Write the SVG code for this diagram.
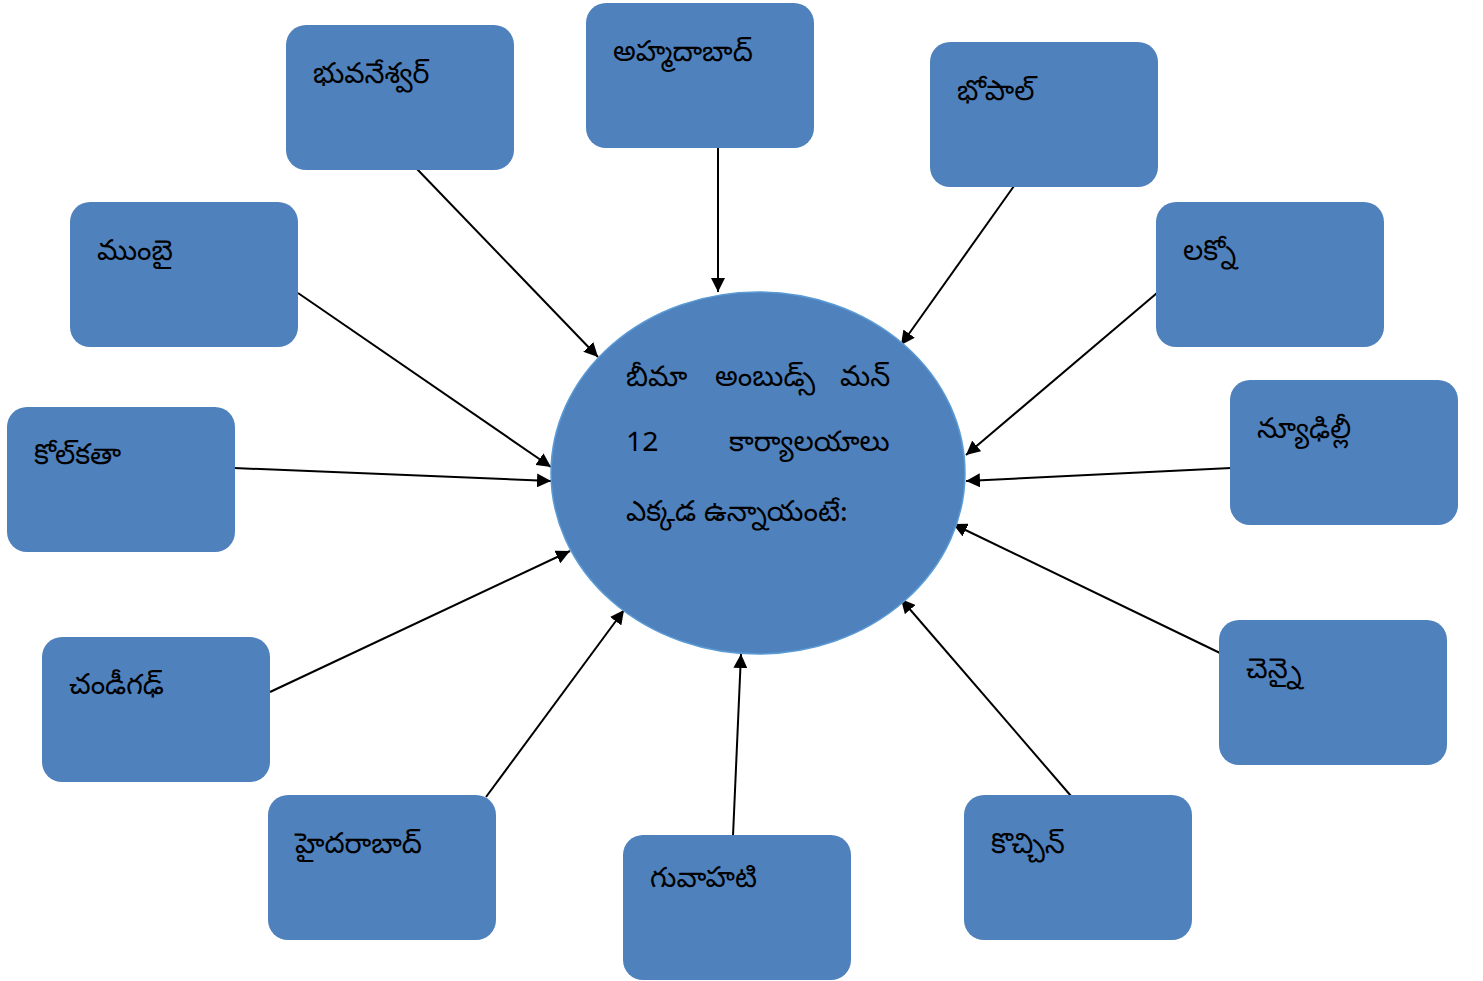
<svg xmlns="http://www.w3.org/2000/svg" width="1483" height="981" viewBox="0 0 1483 981">
<style>
.box{fill:#4F81BD;}
.t{font-family:"Noto Sans Telugu","Gautami","Nirmala UI","Noto Sans","DejaVu Sans",sans-serif;font-size:28.5px;fill:#000;}
.c{stroke:#000;stroke-width:2;fill:none;marker-end:url(#ah);}
</style>
<defs>
<marker id="ah" viewBox="0 0 10 10" refX="10" refY="5" markerWidth="7" markerHeight="7" markerUnits="strokeWidth" orient="auto">
<path d="M0,0 L10,5 L0,10 z" fill="#000"/>
</marker>
</defs>
<rect width="1483" height="981" fill="#fff"/>
<g id="connectors">
<line class="c" x1="417" y1="169" x2="598" y2="357"/>
<line class="c" x1="718" y1="148" x2="718" y2="292"/>
<line class="c" x1="1014" y1="186" x2="901" y2="345"/>
<line class="c" x1="298" y1="293" x2="551" y2="467"/>
<line class="c" x1="1157" y1="293" x2="966" y2="455"/>
<line class="c" x1="234" y1="468" x2="551" y2="481"/>
<line class="c" x1="1231" y1="468" x2="966" y2="481"/>
<line class="c" x1="270" y1="692" x2="570" y2="551"/>
<line class="c" x1="1220" y1="653" x2="953" y2="524"/>
<line class="c" x1="486" y1="797" x2="624" y2="610"/>
<line class="c" x1="733" y1="836" x2="741" y2="654"/>
<line class="c" x1="1071" y1="796" x2="901" y2="599"/>
</g>
<g id="center">
<ellipse cx="758" cy="473" rx="207" ry="181" fill="#4F81BD" stroke="#5B9BD5" stroke-width="1.5"/>
<text class="t" x="626" y="386">బీమా</text>
<text class="t" x="715" y="386">అంబుడ్స్</text>
<text class="t" x="840" y="386">మన్</text>
<text class="t" x="626" y="451">12</text>
<text class="t" x="729" y="451">కార్యాలయాలు</text>
<text class="t" x="626" y="521">ఎక్కడ ఉన్నాయంటే:</text>
</g>
<g id="bhubaneswar"><rect class="box" x="286" y="25" width="228" height="145" rx="20"/><text class="t" x="313" y="83">భువనేశ్వర్</text></g>
<g id="ahmedabad"><rect class="box" x="586" y="3" width="228" height="145" rx="20"/><text class="t" x="613" y="61">అహ్మదాబాద్</text></g>
<g id="bhopal"><rect class="box" x="930" y="42" width="228" height="145" rx="20"/><text class="t" x="957" y="100">భోపాల్</text></g>
<g id="mumbai"><rect class="box" x="70" y="202" width="228" height="145" rx="20"/><text class="t" x="97" y="260">ముంబై</text></g>
<g id="lucknow"><rect class="box" x="1156" y="202" width="228" height="145" rx="20"/><text class="t" x="1183" y="260">లక్నో</text></g>
<g id="kolkata"><rect class="box" x="7" y="407" width="228" height="145" rx="20"/><text class="t" x="34" y="464">కోల్‌కతా</text></g>
<g id="newdelhi"><rect class="box" x="1230" y="380" width="228" height="145" rx="20"/><text class="t" x="1257" y="438">న్యూఢిల్లీ</text></g>
<g id="chandigarh"><rect class="box" x="42" y="637" width="228" height="145" rx="20"/><text class="t" x="69" y="694">చండీగఢ్</text></g>
<g id="chennai"><rect class="box" x="1219" y="620" width="228" height="145" rx="20"/><text class="t" x="1246" y="678">చెన్నై</text></g>
<g id="hyderabad"><rect class="box" x="268" y="795" width="228" height="145" rx="20"/><text class="t" x="295" y="853">హైదరాబాద్</text></g>
<g id="guwahati"><rect class="box" x="623" y="835" width="228" height="145" rx="20"/><text class="t" x="650" y="887">గువాహటి</text></g>
<g id="kochi"><rect class="box" x="964" y="795" width="228" height="145" rx="20"/><text class="t" x="991" y="853">కొచ్చిన్</text></g>
</svg>
